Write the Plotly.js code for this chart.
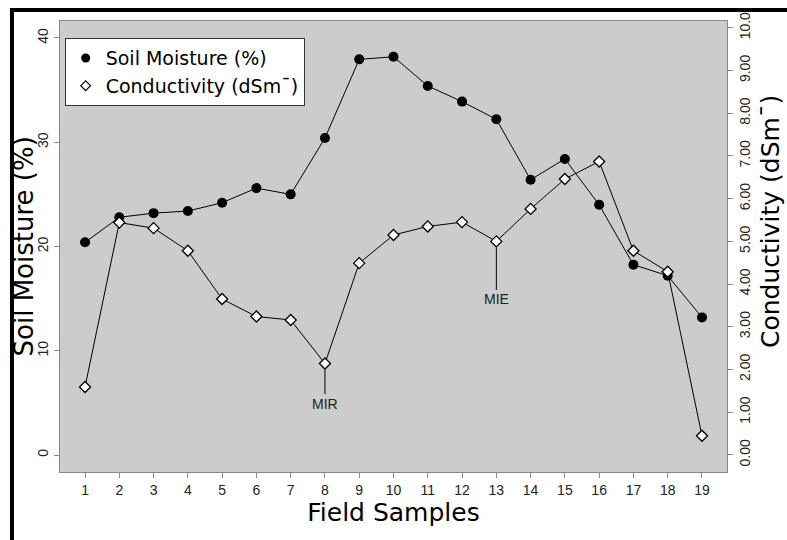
<!DOCTYPE html>
<html>
<head>
<meta charset="utf-8">
<script src="https://cdn.plot.ly/plotly-3.0.1.min.js"></script>
<style>html,body{margin:0;padding:0;background:#fff;}#chart{width:787px;height:540px;}</style>
</head>
<body>
<div id="chart"></div>
<script>
var samples = [1,2,3,4,5,6,7,8,9,10,11,12,13,14,15,16,17,18,19];
var soilMoisture = [20.4,22.8,23.2,23.4,24.2,25.6,25.0,30.4,37.95,38.2,35.4,33.9,32.2,26.4,28.4,24.0,18.25,17.2,13.2];
var conductivity = [1.59,5.44,5.31,4.78,3.65,3.24,3.16,2.14,4.49,5.15,5.35,5.45,5.0,5.76,6.46,6.87,4.78,4.29,0.45];
var leftTicks = [0,10,20,30,40];
var rightTickVals = [0,1,2,3,4,5,6,7,8,9,10];
var rightTickText = ["0.00","1.00","2.00","3.00","4.00","5.00","6.00","7.00","8.00","9.00","10.0"];
var seriesNames = ["Soil Moisture (%)", "Conductivity (dSm\u00AF)"];
var notes = [{label:"MIR", idx:7}, {label:"MIE", idx:12}];

var tickFont = {family:"Liberation Sans, Arial, sans-serif", size:14, color:"#222"};
var titleFont = {family:"DejaVu Sans, sans-serif", size:25, color:"#000"};

var traces = [
  {x:samples, y:soilMoisture, type:"scatter", mode:"lines+markers", yaxis:"y", showlegend:false,
   line:{color:"#000", width:1}, marker:{symbol:"circle", size:10, color:"#000"}},
  {x:samples, y:conductivity, type:"scatter", mode:"lines+markers", yaxis:"y2", showlegend:false,
   line:{color:"#000", width:1}, marker:{symbol:"diamond", size:8.5, color:"#fff", line:{color:"#000", width:1.3}}},
  {x:[null], y:[null], type:"scatter", mode:"markers", name:seriesNames[0],
   marker:{symbol:"circle", size:9, color:"#000"}},
  {x:[null], y:[null], type:"scatter", mode:"markers", name:seriesNames[1],
   marker:{symbol:"diamond", size:7.5, color:"#fff", line:{color:"#000", width:1.2}}}
];

var annotations = notes.map(function(n, k){
  return {x:samples[n.idx], y:conductivity[n.idx], xref:"x", yref:"y2", text:n.label,
    showarrow:true, arrowhead:0, arrowwidth:1, arrowcolor:"#000", ax:0, ay:(k===0?40:58),
    standoff:6, font:{family:"Liberation Sans, Arial, sans-serif", size:14, color:"#222"}};
});
annotations.push({xref:"paper", yref:"paper", x:-0.054, y:0.5, xanchor:"center", yanchor:"middle",
  textangle:-90, showarrow:false, text:seriesNames[0], font:{family:"DejaVu Sans, sans-serif", size:26, color:"#000"}});
annotations.push({xref:"paper", yref:"paper", x:1.065, y:0.555, xanchor:"center", yanchor:"middle",
  textangle:-90, showarrow:false, text:seriesNames[1], font:titleFont});

var shapes = [
  {type:"rect", xref:"paper", yref:"paper", x0:-0.075, x1:1.2, y0:1.0200, y1:1.0290, fillcolor:"#000", line:{width:0}, layer:"above"},
  {type:"rect", xref:"paper", yref:"paper", x0:-0.075, x1:-0.069, y0:-0.16, y1:1.0290, fillcolor:"#000", line:{width:0}, layer:"above"}
];

var layout = {
  width:787, height:540,
  margin:{l:60, r:60, t:21, b:68},
  paper_bgcolor:"#fff", plot_bgcolor:"#cccccc",
  showlegend:true,
  legend:{x:0.007, y:0.962, xanchor:"left", yanchor:"top", bgcolor:"#fff", bordercolor:"#333", borderwidth:1,
    font:{family:"DejaVu Sans, sans-serif", size:19, color:"#000"}, itemwidth:30, tracegroupgap:0},
  xaxis:{range:[0.27,19.73], tickvals:samples, ticks:"outside", ticklen:5, tickcolor:"#888",
    showgrid:false, zeroline:false, showline:true, linecolor:"#888", linewidth:1, mirror:true,
    tickfont:tickFont, title:{text:"Field Samples", font:titleFont, standoff:6}},
  yaxis:{range:[-1.63,41.63], tickvals:leftTicks, ticks:"outside", ticklen:5, tickcolor:"#888",
    showgrid:false, zeroline:false, showline:true, linecolor:"#888", linewidth:1, mirror:true,
    tickangle:-90, tickfont:tickFont},
  yaxis2:{range:[-0.40,10.16], overlaying:"y", side:"right", tickvals:rightTickVals, ticktext:rightTickText,
    ticks:"outside", ticklen:5, tickcolor:"#888", showgrid:false, zeroline:false, showline:false,
    tickangle:-90, tickfont:tickFont},
  annotations:annotations,
  shapes:shapes
};

Plotly.newPlot("chart", traces, layout, {displayModeBar:false, staticPlot:true});
</script>
</body>
</html>
